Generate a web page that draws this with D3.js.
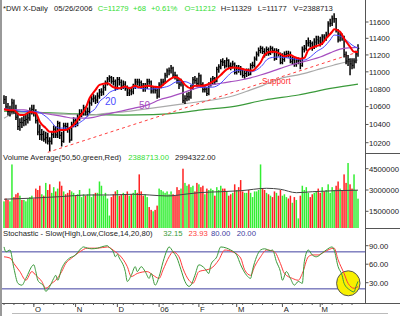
<!DOCTYPE html>
<html>
<head>
<meta charset="utf-8">
<script src="https://cdn.jsdelivr.net/npm/d3@7"></script>
<style>
  body { margin: 0; background: #fff; }
  svg { display: block; font-family: "Liberation Sans", Arial, sans-serif; }
</style>
</head>
<body>
<svg id="chart" width="400" height="316"></svg>
<script>
// daily bars, 12 Sep 2005 .. 26 May 2006 (index = trading day)
const closes = [
  10682,10597,10544,10558,10641,10557,10481,10378,10422,10420,
  10443,10456,10473,10552,10569,10535,10442,10317,10288,10292,
  10238,10254,10217,10216,10287,10348,10285,10414,10281,10215,
  10385,10378,10344,10229,10402,10440,10406,10472,10522,10530,
  10586,10539,10546,10640,10686,10697,10674,10720,10766,10766,
  10820,10872,10916,10932,10890,10889,10806,10912,10878,10835,
  10856,10810,10755,10779,10768,10823,10883,10881,10875,10836,
  10805,10833,10889,10883,10777,10796,10784,10718,10847,10880,
  10882,10959,11011,11012,11043,10962,10959,10896,10854,10880,
  10667,10689,10712,10710,10809,10907,10900,10865,10954,10851,
  10793,10798,10749,10858,10883,10919,10892,11029,11058,11120,
  11115,11069,11137,11069,11061,11092,10993,11053,11025,11021,
  10958,10981,11005,10972,11076,11076,11151,11209,11254,11279,
  11241,11201,11265,11217,11279,11251,11154,11250,11209,11109,
  11145,11204,11216,11204,11120,11142,11089,11129,11137,11073,
  11268,11279,11342,11347,11336,11283,11354,11382,11367,11343,
  11417,11400,11439,11577,11584,11639,11642,11500,11381,11428,
  11419,11205,11128,11144,11094,11076,11117,11211,11279
]
const highs = [
  10730,10720,10640,10610,10690,10680,10620,10520,10470,10480,
  10500,10510,10540,10590,10620,10620,10570,10470,10400,10350,
  10330,10320,10310,10260,10320,10390,10380,10440,10430,10320,
  10420,10420,10420,10370,10430,10480,10470,10510,10570,10570,
  10620,10600,10590,10680,10720,10740,10730,10760,10800,10810,
  10850,10900,10940,10960,10950,10940,10910,10940,10940,10910,
  10900,10890,10840,10820,10820,10860,10920,10920,10920,10900,
  10870,10870,10920,10920,10900,10830,10830,10800,10880,10920,
  10920,10990,11040,11050,11080,11060,11000,10970,10920,10920,
  10890,10730,10760,10770,10850,10940,10950,10930,10990,10970,
  10880,10840,10820,10880,10930,10950,10940,11060,11090,11150,
  11160,11140,11170,11150,11110,11130,11110,11080,11080,11070,
  11040,11020,11040,11040,11100,11120,11180,11240,11290,11310,
  11300,11280,11300,11290,11310,11300,11280,11280,11270,11230,
  11220,11240,11250,11250,11240,11180,11170,11160,11170,11150,
  11300,11320,11380,11410,11380,11360,11400,11430,11430,11420,
  11450,11450,11480,11610,11640,11680,11710,11650,11510,11470,
  11460,11430,11240,11200,11160,11160,11160,11250,11329
]
const lows = [
  10630,10560,10500,10490,10520,10520,10450,10340,10330,10360,
  10380,10390,10410,10440,10510,10490,10410,10280,10230,10220,
  10210,10190,10180,10110,10180,10250,10250,10250,10240,10160,
  10200,10330,10310,10200,10220,10370,10370,10380,10440,10480,
  10500,10500,10490,10520,10610,10650,10630,10640,10690,10720,
  10730,10780,10840,10880,10860,10840,10780,10790,10840,10790,
  10800,10780,10720,10720,10730,10740,10800,10840,10830,10800,
  10770,10770,10800,10850,10750,10750,10750,10690,10700,10810,
  10840,10860,10930,10960,10980,10930,10910,10860,10800,10830,
  10640,10630,10660,10670,10690,10790,10860,10830,10840,10820,
  10760,10760,10720,10730,10830,10850,10850,10880,10990,11030,
  11070,11040,11050,11040,11020,11040,10970,10970,10990,10960,
  10930,10920,10940,10950,10960,11040,11050,11130,11180,11220,
  11210,11170,11190,11190,11200,11220,11130,11140,11180,11090,
  11090,11120,11170,11170,11100,11090,11060,11060,11090,11030,
  11060,11230,11250,11300,11290,11250,11270,11290,11330,11300,
  11320,11360,11370,11430,11540,11550,11590,11470,11350,11360,
  11370,11170,11090,11070,10960,11030,11040,11100,11177
]
// volume in millions
const volumes = [
  2.2,2.4,2.3,2.2,4.8,2.5,2.7,2.8,2.6,2.3,
  2.3,2.2,2.4,2.5,2.6,2.4,3.1,3.0,3.3,2.7,
  2.6,3.5,3.0,3.4,2.8,3.2,2.9,3.1,3.6,3.3,
  2.9,2.7,2.8,3.0,2.9,2.8,2.6,2.7,3.0,2.5,
  2.7,2.6,2.7,3.1,2.5,2.7,2.8,2.8,3.6,3.3,
  2.6,2.8,2.4,1.2,2.5,2.7,2.9,3.0,2.6,2.7,
  2.8,2.7,2.9,2.6,2.7,2.8,3.0,2.8,4.1,2.9,
  2.6,2.7,2.5,1.8,1.6,1.5,1.6,1.9,3.1,3.0,
  2.9,2.8,2.9,2.7,2.9,2.7,2.6,3.2,3.0,3.1,
  4.5,3.5,3.3,3.4,3.2,3.3,2.9,3.5,3.4,3.2,
  3.3,2.7,3.1,3.0,3.1,3.0,2.6,3.2,3.0,3.3,
  3.1,3.1,2.9,2.6,2.7,2.8,3.4,3.0,3.2,3.7,
  2.9,2.8,2.8,3.0,2.8,2.5,2.9,2.9,3.0,4.8,
  3.1,3.0,2.8,2.7,2.6,2.5,2.9,2.8,2.6,3.0,
  2.6,2.7,2.5,2.4,2.6,2.1,2.5,2.3,1.0,2.6,
  3.3,3.0,3.2,2.8,2.5,2.7,2.8,2.9,3.1,2.8,
  3.2,2.9,3.0,3.4,2.8,3.2,3.0,3.3,3.6,3.1,
  3.0,4.1,3.5,4.9,3.4,3.1,4.1,3.0,2.39
]

// moving averages: [day index, value]
const ma10 = [[0,10570],[3,10560],[5,10560],[8,10506],[10,10506],[13,10540],[16,10525],[18,10430],[21,10360],[23,10320],[26,10320],[28,10340],[31,10340],[33,10360],[36,10420],[38,10488],[41,10580],[43,10695],[46,10790],[48,10848],[52,10867],[55,10820],[58,10810],[61,10830],[63,10810],[66,10837],[68,10820],[72,10837],[75,10830],[78,10820],[81,10870],[84,10920],[86,10940],[89,10905],[91,10848],[94,10810],[96,10837],[99,10837],[102,10850],[105,10885],[109,10963],[112,11030],[115,11050],[119,11040],[122,11022],[125,11015],[127,11055],[129,11110],[131,11199],[134,11237],[136,11237],[139,11210],[141,11185],[144,11199],[146,11175],[149,11156],[151,11165],[153,11259],[156,11298],[160,11336],[162,11398],[165,11480],[166,11510],[169,11480],[171,11398],[174,11298],[176,11237],[178,11235]]
const ma20 = [[0,10575],[5,10562],[10,10545],[16,10545],[20,10506],[23,10450],[26,10375],[28,10360],[32,10360],[35,10375],[38,10420],[41,10470],[43,10525],[46,10580],[48,10655],[51,10713],[53,10760],[56,10790],[59,10810],[63,10820],[68,10810],[73,10800],[78,10810],[83,10837],[87,10885],[91,10885],[95,10848],[99,10820],[105,10822],[109,10867],[112,10940],[115,11000],[120,11022],[124,11000],[127,11022],[130,11080],[132,11140],[135,11170],[138,11175],[141,11170],[145,11156],[148,11145],[151,11140],[154,11175],[157,11237],[161,11298],[164,11380],[166,11440],[169,11428],[172,11380],[175,11319],[178,11279]]
const ma50 = [[0,10570],[10,10562],[15,10540],[20,10525],[25,10506],[30,10488],[35,10470],[40,10470],[45,10480],[50,10506],[55,10532],[60,10555],[65,10580],[73,10625],[78,10675],[84,10713],[89,10750],[94,10790],[99,10825],[104,10848],[109,10867],[114,10885],[119,10905],[124,10930],[129,10963],[134,11000],[139,11040],[144,11080],[149,11110],[154,11140],[159,11175],[164,11225],[169,11270],[174,11285],[178,11290]]
const ma100 = [[0,10470],[6,10525],[13,10530],[30,10515],[43,10506],[50,10520],[60,10540],[67,10560],[80,10600],[90,10630],[98,10655],[105,10675],[115,10720],[124,10790],[130,10840],[140,10930],[149,10970],[157,11022],[166,11080],[171,11110],[178,11140]]
const ma200 = [[0,10550],[10,10540],[30,10525],[45,10510],[60,10505],[75,10510],[90,10535],[98,10560],[115,10600],[131,10675],[148,10732],[165,10810],[178,10856]]
const supportLine = [[22,10096],[178,11235]]

const volAvg = [[0,2.35],[13,2.42],[28,2.53],[43,2.65],[53,2.65],[65,2.70],[73,2.65],[82,2.58],[92,2.72],[98,2.81],[109,2.88],[119,2.95],[132,3.12],[139,3.05],[147,2.81],[155,2.88],[166,2.95],[178,2.99]]

const stochK = [[0,88],[1,80],[3,83],[5,53],[7,29],[9,26],[11,37],[15,59],[16,48],[17,34],[20,24],[21,16],[23,24],[25,37],[26,42],[27,34],[29,53],[31,64],[33,70],[36,75],[38,83],[40,88],[42,86],[44,85],[47,86],[49,88],[52,90],[53,87],[55,80],[56,72],[57,76],[58,70],[61,48],[62,32],[64,42],[66,56],[67,48],[69,56],[71,48],[73,37],[74,45],[76,26],[78,40],[80,64],[82,83],[83,88],[85,80],[87,70],[89,51],[91,32],[93,24],[94,26],[96,42],[98,59],[101,53],[103,45],[104,59],[107,72],[109,88],[112,86],[114,83],[117,75],[119,59],[122,42],[124,37],[125,51],[127,72],[129,83],[131,85],[134,82],[135,83],[137,64],[139,48],[140,34],[142,48],[144,37],[146,26],[148,32],[150,29],[151,64],[153,83],[155,75],[157,72],[160,78],[162,83],[165,88],[166,83],[168,56],[170,42],[171,29],[174,18],[176,15],[177,24],[178,32.15]]
const stochD = [[0,72],[3,70],[5,61],[8,48],[11,34],[14,48],[16,42],[19,32],[21,21],[24,29],[26,34],[29,48],[31,61],[34,70],[38,80],[42,86],[47,86],[52,88],[56,80],[58,75],[62,56],[64,40],[67,45],[72,48],[75,42],[78,37],[80,51],[83,72],[85,80],[88,72],[90,53],[93,34],[95,29],[98,48],[102,51],[104,53],[108,67],[111,83],[115,80],[119,70],[121,51],[124,42],[126,56],[129,72],[132,83],[136,80],[139,61],[141,45],[145,37],[148,34],[150,45],[153,72],[155,75],[158,75],[161,80],[166,86],[168,67],[171,45],[173,29],[176,21],[178,23.93]]

const monthStarts = [15, 36, 57, 78, 98, 117, 140, 159]
const monthLabels = ['O', 'N', 'D', '06', 'F', 'M', 'A', 'M']
const priceTicks = [10200, 10400, 10600, 10800, 11000, 11200, 11400, 11600]
const volTicks = [1.5, 3.0, 4.5]
const stochTicks = [30, 60, 90]

const svg = d3.select('#chart')
const fs = 7.7
const axisX = 365.5

// SCALES
const x = d3.scaleLinear().domain([0, closes.length - 1]).range([4, 358])
const yP = d3.scaleLog().domain([10200, 11600]).range([142.7, 22])
const yV = d3.scaleLinear().domain([1.5, 4.5]).range([211.3, 168.7])
const yS = d3.scaleLinear().domain([30, 90]).range([282.7, 245.7])

const defs = svg.append('defs')
const clip = (id, y0, y1) => defs.append('clipPath').attr('id', id)
  .append('rect').attr('x', 2).attr('y', y0).attr('width', axisX - 2).attr('height', y1 - y0)
clip('cp-price', 0, 153)
clip('cp-vol', 153, 228)
clip('cp-stoch', 228, 303)

// FRAME
svg.append('rect').attr('x', 0).attr('y', 0).attr('width', 2).attr('height', 316).attr('fill', '#999')
svg.append('line').attr('x1', axisX).attr('x2', axisX).attr('y1', 0).attr('y2', 303.5)
  .attr('stroke', '#555')
svg.append('line').attr('x1', 2).attr('x2', 400).attr('y1', 303.5).attr('y2', 303.5).attr('stroke', '#555')
svg.selectAll('.sep').data([153.5, 228.5]).enter().append('line')
  .attr('x1', axisX).attr('x2', 400).attr('y1', d => d).attr('y2', d => d).attr('stroke', '#555')
svg.append('line').attr('x1', 12).attr('x2', 388).attr('y1', 313.5).attr('y2', 313.5).attr('stroke', '#bbb')

// PRICE PANEL
const pg = svg.append('g').attr('clip-path', 'url(#cp-price)')
const maLine = d3.line().x(d => x(d[0])).y(d => yP(d[1])).curve(d3.curveMonotoneX)

pg.append('path').datum(ma200).attr('d', maLine).attr('fill', 'none').attr('stroke', '#3a9a3a').attr('stroke-width', 1.2)
pg.append('path').datum(ma100).attr('d', maLine).attr('fill', 'none').attr('stroke', '#aaa').attr('stroke-width', 1.2)
pg.append('path').datum(supportLine).attr('d', d3.line().x(d => x(d[0])).y(d => yP(d[1])))
  .attr('fill', 'none').attr('stroke', '#ff4040').attr('stroke-width', 1).attr('stroke-dasharray', '3,3')

const bars = pg.append('g')
bars.selectAll('.hl').data(closes).enter().append('line')
  .attr('x1', (d, i) => x(i)).attr('x2', (d, i) => x(i))
  .attr('y1', (d, i) => yP(highs[i])).attr('y2', (d, i) => yP(lows[i]))
  .attr('stroke', '#000').attr('stroke-width', 1.5)
bars.selectAll('.cl').data(closes).enter().append('line')
  .attr('x1', (d, i) => x(i)).attr('x2', (d, i) => x(i) + 1.4)
  .attr('y1', d => yP(d)).attr('y2', d => yP(d))
  .attr('stroke', '#000').attr('stroke-width', 1)

pg.append('path').datum(ma50).attr('d', maLine).attr('fill', 'none').attr('stroke', '#a64fc0').attr('stroke-width', 1.2)
pg.append('path').datum(ma20).attr('d', maLine).attr('fill', 'none').attr('stroke', '#4a4aff').attr('stroke-width', 1)
pg.append('path').datum(ma10).attr('d', maLine).attr('fill', 'none').attr('stroke', '#ff0000').attr('stroke-width', 2)

svg.append('text').attr('x', 105).attr('y', 105).attr('fill', '#4a4aff').attr('font-size', 10).text('20')
svg.append('text').attr('x', 139).attr('y', 109).attr('fill', '#a64fc0').attr('font-size', 10).text('50')
svg.append('text').attr('x', 262).attr('y', 84).attr('fill', '#ff3030').attr('font-size', 8.2).text('Support')

// HEADER
const header = [
  { t: '*DWI X-Daily', x: 3, c: '#222' },
  { t: '05/26/2006', x: 54, c: '#222' },
  { t: 'C=11279', x: 97.7, c: '#33dd33' },
  { t: '+68', x: 133, c: '#33dd33' },
  { t: '+0.61%', x: 151, c: '#33dd33' },
  { t: 'O=11212', x: 184.5, c: '#33dd33' },
  { t: 'H=11329', x: 220.7, c: '#222' },
  { t: 'L=11177', x: 257.7, c: '#222' },
  { t: 'V=2388713', x: 293.3, c: '#222' }
]
svg.selectAll('.hdr').data(header).enter().append('text')
  .attr('x', d => d.x).attr('y', 11).attr('font-size', fs).attr('fill', d => d.c).text(d => d.t)

// RIGHT AXES
const rightAxis = (ticks, scale, fmt) => {
  const g = svg.append('g')
  g.selectAll('line').data(ticks).enter().append('line')
    .attr('x1', axisX).attr('x2', axisX + 3).attr('y1', d => scale(d)).attr('y2', d => scale(d)).attr('stroke', '#555')
  g.selectAll('text').data(ticks).enter().append('text')
    .attr('x', 369).attr('y', d => scale(d) + 2.8).attr('font-size', fs).attr('fill', '#222').text(fmt)
}
rightAxis(priceTicks, yP, d => d)
rightAxis(volTicks, yV, d => d3.format('d')(d * 1e6))
rightAxis(stochTicks, yS, d => d.toFixed(2))

// VOLUME PANEL
const vg = svg.append('g').attr('clip-path', 'url(#cp-vol)')
vg.selectAll('rect').data(volumes).enter().append('rect')
  .attr('x', (d, i) => x(i) - 0.75).attr('width', 1.5)
  .attr('y', d => yV(d)).attr('height', d => 228 - yV(d))
  .attr('fill', (d, i) => i === 0 || closes[i] >= closes[i - 1] ? '#33ee33' : '#ff2222')
vg.append('path').datum(volAvg)
  .attr('d', d3.line().x(d => x(d[0])).y(d => yV(d[1])).curve(d3.curveMonotoneX))
  .attr('fill', 'none').attr('stroke', '#444').attr('stroke-width', 1)

svg.append('text').attr('x', 3).attr('y', 160).attr('font-size', fs).attr('fill', '#222').text('Volume Average(50,50,green,Red)')
svg.append('text').attr('x', 128.3).attr('y', 160).attr('font-size', fs).attr('fill', '#33dd33').text('2388713.00')
svg.append('text').attr('x', 175).attr('y', 160).attr('font-size', fs).attr('fill', '#222').text('2994322.00')

// STOCHASTIC PANEL
const sg = svg.append('g').attr('clip-path', 'url(#cp-stoch)')
sg.selectAll('.lvl').data([80, 20]).enter().append('line')
  .attr('x1', 2).attr('x2', axisX).attr('y1', d => yS(d)).attr('y2', d => yS(d))
  .attr('stroke', '#4040a0').attr('stroke-width', 1)
sg.append('ellipse').attr('cx', 348.3).attr('cy', 283.3).attr('rx', 11.7).attr('ry', 12.5)
  .attr('fill', '#f8f000').attr('stroke', '#555').attr('stroke-width', 1)
const stLine = d3.line().x(d => x(d[0])).y(d => yS(d[1])).curve(d3.curveMonotoneX)
sg.append('path').datum(stochD).attr('d', stLine).attr('fill', 'none').attr('stroke', '#ff3b3b').attr('stroke-width', 1)
sg.append('path').datum(stochK).attr('d', stLine).attr('fill', 'none').attr('stroke', '#3a9a3a').attr('stroke-width', 1)

const stHdr = [
  { t: 'Stochastic - Slow(High,Low,Close,14,20,80)', x: 3, c: '#222' },
  { t: '32.15', x: 163.3, c: '#3a9a3a' },
  { t: '23.93', x: 188.5, c: '#ff3b3b' },
  { t: '80.00', x: 211, c: '#4040a0' },
  { t: '20.00', x: 236.7, c: '#4040a0' }
]
svg.selectAll('.sth').data(stHdr).enter().append('text')
  .attr('x', d => d.x).attr('y', 236).attr('font-size', fs).attr('fill', d => d.c).text(d => d.t)

// X AXIS
const xg = svg.append('g')
xg.selectAll('.minor').data(d3.range(0, closes.length, 5)).enter().append('line')
  .attr('x1', d => x(d)).attr('x2', d => x(d)).attr('y1', 303.5).attr('y2', 305)
  .attr('stroke', '#555')
xg.selectAll('.major').data(monthStarts).enter().append('line')
  .attr('x1', d => x(d)).attr('x2', d => x(d)).attr('y1', 303.5).attr('y2', 307)
  .attr('stroke', '#555')
xg.selectAll('text').data(monthStarts).enter().append('text')
  .attr('x', d => x(d) + 1.2).attr('y', 311.5).attr('font-size', fs).attr('fill', '#222')
  .text((d, i) => monthLabels[i])
</script>
</body>
</html>
